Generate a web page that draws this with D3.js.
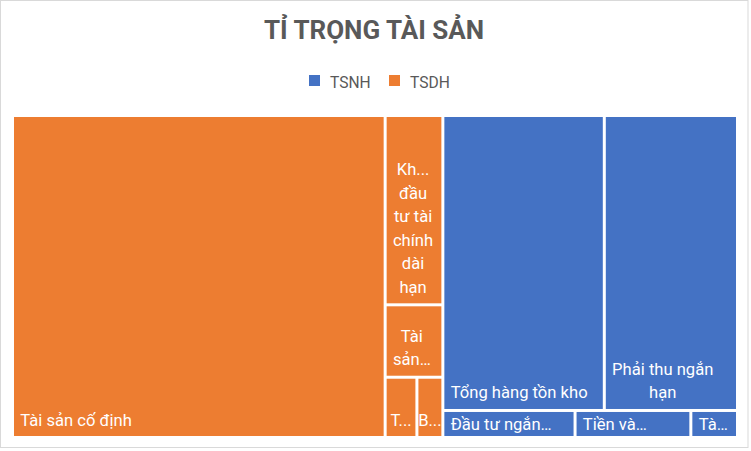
<!DOCTYPE html>
<html><head>
<meta charset="utf-8">
<title>Tỉ trọng tài sản</title>
<script src="https://d3js.org/d3.v7.min.js"></script>
<style>
  body { margin: 0; background: #fff; }
  text { font-family: Roboto, "Noto Sans", sans-serif; }
</style>
</head>
<body>
<svg id="chart" width="751" height="451"></svg>
<script>
// Data: share of total assets (%)
const groups = ["TSNH", "TSDH"];
const groupColors = ["#4472C4", "#ED7D31"];

const tsdhNames  = ["Tài sản cố định", "Khoản đầu tư tài chính dài hạn", "Tài sản dài hạn khác",
                    "Tài sản dở dang dài hạn", "Bất động sản đầu tư"];
const tsdhValues = [51.4, 4.68, 1.79, 0.82, 0.67];

const tsnhNames  = ["Tổng hàng tồn kho", "Phải thu ngắn hạn", "Đầu tư ngắn hạn",
                    "Tiền và tương đương tiền", "Tài sản ngắn hạn khác"];
const tsnhValues = [20.4, 16.83, 1.53, 1.34, 0.54];

const svg = d3.select("svg#chart");
const margin = {top: 117, left: 14};
const chartWidth = 722;
const chartHeight = 319;

// chart border
svg.append("rect")
  .attr("x", 0.5).attr("y", 0.5)
  .attr("width", 747.5).attr("height", 447)
  .attr("fill", "none").attr("stroke", "#d9d9d9");

// title
svg.append("text")
  .attr("x", 374).attr("y", 39)
  .attr("text-anchor", "middle")
  .attr("font-size", 26).attr("font-weight", "bold")
  .attr("fill", "#595959")
  .text("TỈ TRỌNG TÀI SẢN");

// legend
const colorScale = d3.scaleOrdinal().domain(groups).range(groupColors);
const legendX = d3.scalePoint().domain(groups).range([309, 389]);
const legend = svg.append("g").attr("class", "legend");
groups.forEach(g => {
  legend.append("rect")
    .attr("x", legendX(g)).attr("y", 75)
    .attr("width", 11).attr("height", 11)
    .attr("fill", colorScale(g));
  legend.append("text")
    .attr("x", legendX(g) + 21).attr("y", 88)
    .attr("font-size", 15.6).attr("fill", "#595959")
    .text(g);
});

// hierarchy
const tree = {
  name: "Tài sản",
  children: [
    {name: "TSDH", children: tsdhNames.map((n, i) => ({name: n, value: tsdhValues[i]}))},
    {name: "TSNH", children: tsnhNames.map((n, i) => ({name: n, value: tsnhValues[i]}))}
  ]
};

const root = d3.hierarchy(tree)
  .sum(d => d.value || 0)
  .sort((a, b) => b.value - a.value);

// ratio 2 gives the same row breaks as the spreadsheet layout
d3.treemap()
  .size([chartWidth, chartHeight])
  .tile(d3.treemapSquarify.ratio(2))
  .paddingInner(3)(root);

const chartArea = svg.append("g")
  .attr("transform", "translate(" + margin.left + "," + margin.top + ")");

const fontSize = 16.6;
const lineH = 23.5;
const padX = 6.3, padY = 6;
const dots = "...";     // cut inside a word while wrapping
const ell = "\u2026";   // cut at the end of the label

// measuring helper
const measurer = svg.append("text").attr("font-size", fontSize).attr("visibility", "hidden");
function textWidth(s) {
  measurer.text(s);
  return measurer.node().getComputedTextLength();
}

// shorten a string with a suffix until it fits (keep at least one char)
function shorten(s, w, suffix) {
  let n = s.length;
  while (n > 1 && textWidth(s.slice(0, n) + suffix) > w) n--;
  return s.slice(0, n) + suffix;
}

// wrap words to lines, roughly the way the spreadsheet does it
function wrapLabel(name, w, h) {
  const words = name.split(" ");
  const maxLines = Math.max(1, Math.floor((h - 2 * padY) / lineH));
  let lines = [];
  let cur = "";
  words.forEach(word => {
    let test = cur ? cur + " " + word : word;
    if (textWidth(test) <= w) { cur = test; return; }
    if (cur) lines.push(cur);
    cur = textWidth(word) <= w ? word : shorten(word, w, dots);
  });
  if (cur) lines.push(cur);
  if (lines.length > maxLines) {
    lines = lines.slice(0, maxLines);
    let last = lines[maxLines - 1];
    if (!last.endsWith(dots)) {
      // drop words first, then chars
      let ws = last.split(" ");
      while (ws.length > 1 && textWidth(ws.join(" ") + ell) > w) ws.pop();
      last = ws.join(" ");
      lines[maxLines - 1] = textWidth(last + ell) <= w ? last + ell : shorten(last, w, ell);
    }
  }
  return lines;
}

root.leaves().forEach(leaf => {
  const w = leaf.x1 - leaf.x0;
  const h = leaf.y1 - leaf.y0;

  chartArea.append("rect")
    .attr("x", leaf.x0).attr("y", leaf.y0)
    .attr("width", w).attr("height", h)
    .attr("fill", colorScale(leaf.parent.data.name));

  const avail = w - 2 * padX;
  const lines = wrapLabel(leaf.data.name, avail, h);
  const widths = lines.map(textWidth);
  const blockW = d3.max(widths);
  const blockLeft = blockW <= avail ? leaf.x0 + padX : leaf.x0 + (w - blockW) / 2;
  const single = lines.length === 1;

  let lastBase;
  if (h - 2 * padY >= lines.length * lineH) lastBase = leaf.y1 - 10.5;
  else lastBase = (leaf.y0 + leaf.y1) / 2 + fontSize * 0.35;

  const label = chartArea.append("text")
    .attr("font-size", fontSize)
    .attr("fill", "#fff");

  lines.forEach((ln, i) => {
    label.append("tspan")
      .attr("x", single ? blockLeft : blockLeft + blockW / 2)
      .attr("y", lastBase - (lines.length - 1 - i) * lineH)
      .attr("text-anchor", single ? "start" : "middle")
      .text(ln);
  });
});

measurer.remove();
</script>
</body>
</html>
